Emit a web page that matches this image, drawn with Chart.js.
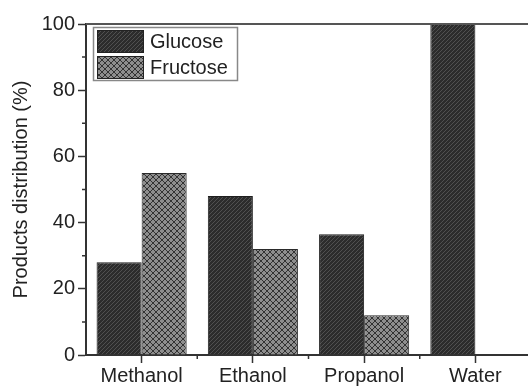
<!DOCTYPE html>
<html>
<head>
<meta charset="utf-8">
<script src="https://cdn.jsdelivr.net/npm/chart.js@4"></script>
<style>
  html, body { margin: 0; padding: 0; background: #fff; overflow: hidden; }
  #wrap { width: 528px; height: 386px; overflow: hidden; }
</style>
</head>
<body>
<div id="wrap"><canvas id="myChart" width="531" height="386"></canvas></div>
<script>
"use strict";

// Data
const categories = ['Methanol', 'Ethanol', 'Propanol', 'Water'];
const glucose = [28, 48, 36.5, 100];
const fructose = [55, 32, 12, 0];
const seriesNames = ['Glucose', 'Fructose'];
const yMin = 0;
const yMax = 100;
const yStep = 20;
const yMinorStep = 10;

const FONT = "'Liberation Sans', Arial, sans-serif";
const ctx = document.getElementById('myChart').getContext('2d');

// Fill patterns like the original (hatched / cross-hatched)
function makePattern(bg, line, size, cross) {
    const c = document.createElement('canvas');
    c.width = size;
    c.height = size;
    const x = c.getContext('2d');
    x.fillStyle = bg;
    x.fillRect(0, 0, size, size);
    x.strokeStyle = line;
    x.lineWidth = 1;
    x.beginPath();
    x.moveTo(-1, size + 1);
    x.lineTo(size + 1, -1);
    if (cross) {
        x.moveTo(-1, -1);
        x.lineTo(size + 1, size + 1);
    }
    x.stroke();
    return ctx.createPattern(c, 'repeat');
}

const glucoseFill = makePattern('#2c2c2c', '#505050', 4, false);
const fructoseFill = makePattern('#8e8e8e', '#333333', 6, true);

// Minor ticks, top border line and the boxed legend
const extras = {
    id: 'extras',
    afterDraw(chart) {
        const c = chart.ctx;
        const area = chart.chartArea;
        const xs = chart.scales.x;
        const ys = chart.scales.y;
        c.save();
        c.strokeStyle = '#333';
        c.lineWidth = 1.5;
        c.beginPath();
        for (let v = yMin + yMinorStep; v < yMax; v += yStep) {
            const y = ys.getPixelForValue(v);
            c.moveTo(area.left - 4, y);
            c.lineTo(area.left, y);
        }
        for (let i = 0; i < categories.length - 1; i++) {
            const x = (xs.getPixelForValue(i) + xs.getPixelForValue(i + 1)) / 2;
            c.moveTo(x, area.bottom);
            c.lineTo(x, area.bottom + 4);
        }
        c.stroke();

        // top frame line
        c.strokeStyle = '#555';
        c.lineWidth = 2;
        c.beginPath();
        c.moveTo(area.left, area.top);
        c.lineTo(chart.width, area.top);
        c.stroke();

        // legend
        c.strokeStyle = '#888';
        c.lineWidth = 1.5;
        c.strokeRect(93.5, 27.5, 144, 53);
        c.font = '20px ' + FONT;
        c.textBaseline = 'middle';
        chart.data.datasets.forEach((ds, i) => {
            const y = 30 + i * 26;
            c.fillStyle = ds.backgroundColor;
            c.fillRect(97, y, 47, 23);
            c.strokeStyle = '#222';
            c.lineWidth = 1;
            c.strokeRect(97.5, y + 0.5, 46, 22);
            c.fillStyle = '#222';
            c.fillText(ds.label, 150, y + 12);
        });
        c.restore();
    }
};

new Chart(ctx, {
    type: 'bar',
    data: {
        labels: categories,
        datasets: [{
            label: seriesNames[0],
            data: glucose,
            backgroundColor: glucoseFill,
            borderColor: '#1e1e1e',
            borderWidth: 1
        }, {
            label: seriesNames[1],
            data: fructose,
            backgroundColor: fructoseFill,
            borderColor: '#2a2a2a',
            borderWidth: 1
        }]
    },
    options: {
        responsive: false,
        animation: false,
        categoryPercentage: 0.81,
        barPercentage: 1.0,
        layout: { padding: { top: 24, right: 0, left: 0, bottom: 0 } },
        plugins: {
            legend: { display: false },
            tooltip: { enabled: false }
        },
        scales: {
            x: {
                grid: {
                    offset: false,
                    drawOnChartArea: false,
                    drawTicks: true,
                    tickLength: 8,
                    tickColor: '#333',
                    tickWidth: 1.5
                },
                border: { color: '#333', width: 2 },
                ticks: {
                    color: '#222',
                    padding: 1,
                    font: { family: FONT, size: 20 }
                },
                afterFit(scale) { scale.height = 31; }
            },
            y: {
                min: yMin,
                max: yMax,
                grid: {
                    drawOnChartArea: false,
                    drawTicks: true,
                    tickLength: 8,
                    tickColor: '#333',
                    tickWidth: 1.5
                },
                border: { color: '#333', width: 2 },
                ticks: {
                    stepSize: yStep,
                    color: '#222',
                    padding: 3,
                    font: { family: FONT, size: 20 }
                },
                title: {
                    display: true,
                    text: 'Products distribution (%)',
                    color: '#222',
                    padding: { top: 9, bottom: 0 },
                    font: { family: FONT, size: 20 }
                },
                afterFit(scale) { scale.width = 86; }
            }
        }
    },
    plugins: [extras]
});
</script>
</body>
</html>
